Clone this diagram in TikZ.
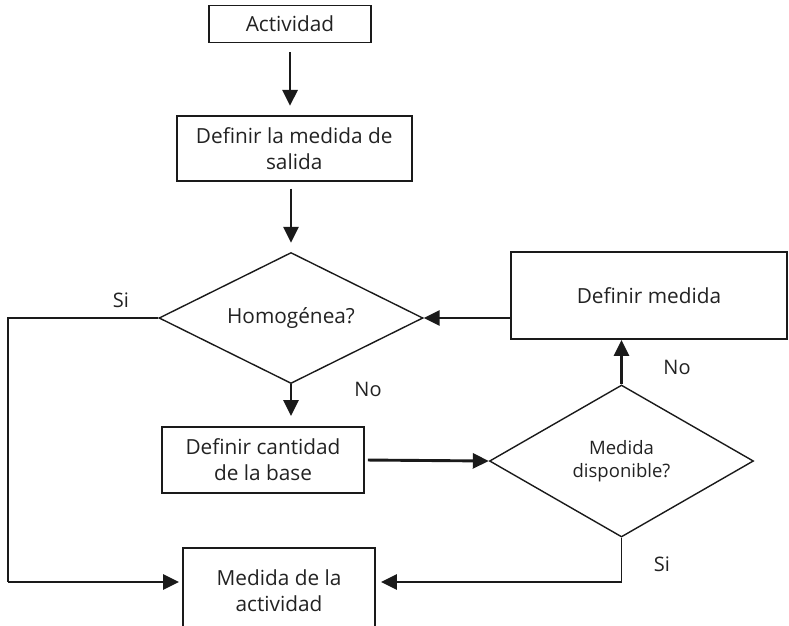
\documentclass[tikz,border=0pt]{standalone}
\usepackage{fontspec}
\setmainfont{Open Sans}
\usetikzlibrary{shapes.geometric,arrows.meta}
\definecolor{ink}{HTML}{1A1A1A}
\definecolor{txt}{HTML}{222222}
\begin{document}
\begin{tikzpicture}[x=1pt,y=-1pt,
  every node/.style={text=txt,font=\fontsize{20.8}{26}\selectfont,align=center,inner sep=0pt},
  stepbox/.style={draw=ink,line width=1.8pt,rectangle},
  choice/.style={draw=ink,line width=1.4pt,diamond,aspect=2},
  flow/.style={draw=ink,line width=2.9pt,-{Triangle[length=16pt,width=15pt]}},
  plain/.style={draw=ink,line width=1.5pt},
  tag/.style={font=\fontsize{20}{24}\selectfont}]
\useasboundingbox (0,0) rectangle (789,625);

% process boxes
\node[stepbox,minimum width=162pt,minimum height=37pt] (act) at (290,24) {Actividad};
\node[stepbox,minimum width=235pt,minimum height=65pt] (def) at (294.2,148.3) {Definir la medida de\\salida};
\node[stepbox,minimum width=202pt,minimum height=66pt] (cant) at (263,460) {Definir cantidad\\de la base};
\node[stepbox,minimum width=276pt,minimum height=87pt] (med) at (649,295.5) {Definir medida};
\node[stepbox,minimum width=192pt,minimum height=86pt] (res) at (279,591) {Medida de la\\actividad};

% decisions
\node[choice,minimum width=264pt,minimum height=131pt] (hom) at (291,318) {Homogénea?};
\node[choice,minimum width=264pt,minimum height=152pt,font=\fontsize{18.5}{23}\selectfont] (disp) at (621.5,461) {Medida\\disponible?};

% corner point of the left "Si" branch
\coordinate (lc) at (8,582);

% main flow
\draw[flow,shorten <=9pt,shorten >=9pt] (act.south) -- (act.south |- def.north);
\draw[flow,shorten <=7pt,shorten >=9pt] (hom.north |- def.south) -- (hom.north);
\draw[flow,shorten >=10pt] (hom.south) -- (hom.south |- cant.north);
\draw[flow,shorten <=3pt] (cant.east) -- (disp.west);
\draw[flow] (disp.north) -- (disp.north |- med.south);
\draw[flow] (med.west |- hom.east) -- (hom.east);

% "Si" branches to the result
\draw[plain] (hom.west) -- (hom.west -| lc) -- (lc);
\draw[flow,shorten >=3pt] (lc) -- (lc -| res.west);
\draw[plain] (disp.south) -- (disp.south |- lc);
\draw[flow,shorten >=5pt] (disp.south |- lc) -- (lc -| res.east);

% branch labels
\node[tag] (si1) at (121,300) {Si};
\node[tag] (no1) at (368,389) {No};
\node[tag] (no2) at (677,367) {No};
\node[tag] (si2) at (662,564) {Si};
\end{tikzpicture}
\end{document}
